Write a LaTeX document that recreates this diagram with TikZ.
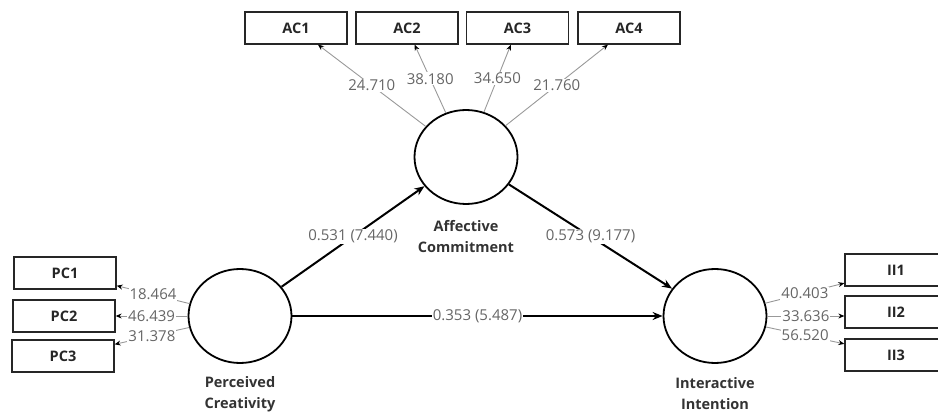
\documentclass[tikz,border=0pt]{standalone}
\usepackage{fontspec}
\setmainfont{Open Sans}
\usetikzlibrary{shapes.geometric,arrows.meta}
\begin{document}
\begin{tikzpicture}[x=1pt,y=-1pt,
  lv/.style={ellipse,draw=black,line width=1.8pt,minimum width=103pt,minimum height=94pt,inner sep=0pt},
  mv/.style={rectangle,draw=black!85,line width=1.3pt,minimum width=102pt,minimum height=32pt,inner sep=0pt,font=\fontsize{14.5}{16}\selectfont\bfseries,text=black!85},
  ld/.style={draw=black!40,line width=0.9pt,-{Stealth[length=6pt,width=5pt,black]}},
  pathln/.style={draw=black,line width=2pt,-{Stealth[length=10pt,width=8pt]}},
  lab/.style={fill=white,inner sep=1pt,text=black!60,font=\fontsize{15}{17}\selectfont},
  lvname/.style={align=center,font=\fontsize{14.5}{21}\selectfont\bfseries,text=black!80}
]
\useasboundingbox (0,0) rectangle (938,414);
% latent variables
\node[lv] (AC) at (466,157) {};
\node[lv] (PC) at (240,316) {};
\node[lv] (II) at (715,316) {};
\node[lvname] (ACl) at (466,237) {Affective\\Commitment};
\node[lvname] (PCl) at (240,394) {Perceived\\Creativity};
\node[lvname] (IIl) at (715,394) {Interactive\\Intention};
% indicators
\node[mv] (AC1) at (296,28) {AC1};
\node[mv] (AC2) at (407,28) {AC2};
\node[mv] (AC3) at (517.5,28) {AC3};
\node[mv] (AC4) at (629,28) {AC4};
\node[mv] (PC1) at (65,273) {PC1};
\node[mv] (PC2) at (64,316) {PC2};
\node[mv] (PC3) at (63,356) {PC3};
\node[mv] (II1) at (896,270) {II1};
\node[mv] (II2) at (896,312) {II2};
\node[mv] (II3) at (896,355) {II3};
% loadings
\draw[ld] (AC) -- node[lab] (t1) {24.710} (AC1);
\draw[ld] (AC) -- node[lab] (t2) {38.180} (AC2);
\draw[ld] (AC) -- node[lab] (t3) {34.650} (AC3);
\draw[ld] (AC) -- node[lab] (t4) {21.760} (AC4);
\draw[ld] (PC) -- node[lab] (t5) {18.464} (PC1);
\draw[ld] (PC) -- node[lab] (t6) {46.439} (PC2.east |- PC.center);
\draw[ld] (PC) -- node[lab] (t7) {31.378} (PC3);
\draw[ld] (II) -- node[lab] (t8) {40.403} (II1);
\draw[ld] (II) -- node[lab] (t9) {33.636} (II2.west |- II.center);
\draw[ld] (II) -- node[lab] (t10) {56.520} (II3);
% structural paths
\draw[pathln] (PC) -- node[lab] (p1) {0.531 (7.440)} (AC);
\draw[pathln] (AC) -- node[lab] (p2) {0.573 (9.177)} (II);
\draw[pathln] (PC) -- node[lab] (p3) {0.353 (5.487)} (II);
\end{tikzpicture}
\end{document}
